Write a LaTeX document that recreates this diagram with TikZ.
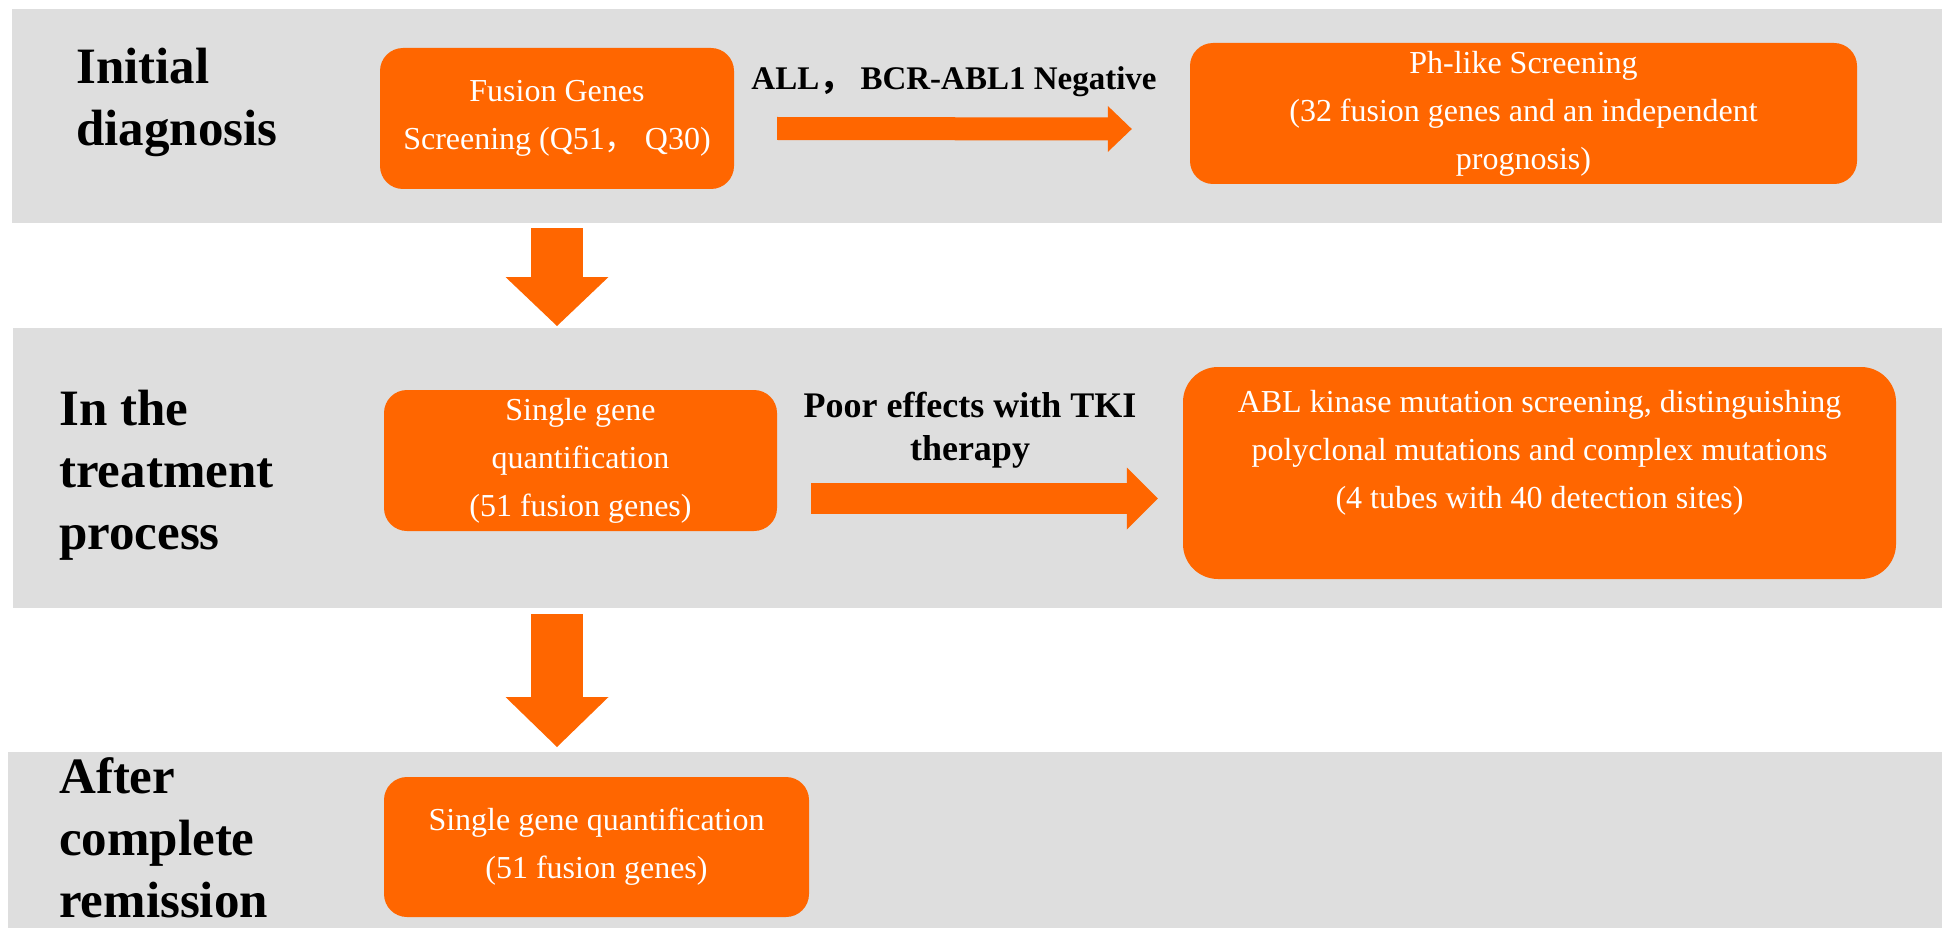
\documentclass[tikz,border=0pt]{standalone}
\usepackage{fontspec}
\setmainfont{Liberation Serif}
\newfontfamily\cjk{Noto Sans CJK SC}
\usepackage{tikz}
\usetikzlibrary{arrows.meta,positioning,calc}
\definecolor{StageGray}{HTML}{DEDEDE}
\definecolor{AssayOrange}{HTML}{FF6600}
\newcommand{\boxfont}{\fontsize{32}{48}\selectfont}
\newcommand{\stagefont}{\fontsize{51}{62}\selectfont\bfseries}
\newcommand{\stageband}[3]{%
  \node[fill=StageGray, inner sep=0pt, anchor=north west, #3] (#1) at #2 {};}
\newcommand{\assaybox}[4]{%
  \node[fill=AssayOrange, rounded corners=#4, text=white, font=\boxfont,
        align=center, inner sep=0pt, #3] (#1) {#2};}

\begin{document}
\begin{tikzpicture}[x=1pt, y=-1pt,
    stagelabel/.style={font=\stagefont, align=left, inner sep=0pt, anchor=west},
    condition/.style={align=center, inner sep=0pt},
    flow/.style={AssayOrange, line width=#1}]
    \useasboundingbox (0,0) rectangle (1942,928);
    % stage bands
    \stageband{diagband}{(12,9)}{minimum width=1930pt, minimum height=214pt}
    \stageband{treatband}{(13,328)}{minimum width=1929pt, minimum height=280pt}
    \stageband{remband}{(8,752)}{minimum width=1934pt, minimum height=176pt}
    \node[stagelabel] (initial) at (76,102) {Initial\\diagnosis};
    \node[stagelabel] (intreat) at (59,475.5) {In the\\treatment\\process};
    \node[stagelabel] (afterrem) at (59,838) {After\\complete\\remission};
    % assays
    \assaybox{fusion}{Fusion Genes\\Screening (Q51{\cjk ，} Q30)}{at={(557,118.5)}, minimum width=354pt, minimum height=141pt}{23pt}
    \assaybox{phlike}{Ph-like Screening\\(32 fusion genes and an independent\\prognosis)}{at={(1523.5,113.5)}, minimum width=667pt, minimum height=141pt}{23pt}
    \assaybox{single}{Single gene\\quantification\\(51 fusion genes)}{at={(580.5,460.5)}, minimum width=393pt, minimum height=141pt}{23pt}
    \assaybox{abl}{ABL kinase mutation screening, distinguishing\\polyclonal mutations and complex mutations\\(4 tubes with 40 detection sites)\\\mbox{}}{at={(1539.5,473)}, minimum width=713pt, minimum height=212pt}{35pt}
    \assaybox{remquant}{Single gene quantification\\(51 fusion genes)}{at={(596.5,847)}, minimum width=425pt, minimum height=140pt}{23pt}
    % conditions
    \node[condition, font=\fontsize{33}{40}\selectfont\bfseries, anchor=base] (negative) at (954,90) {ALL{\cjk ，} BCR-ABL1 Negative};
    \node[condition, font=\fontsize{36}{43}\selectfont\bfseries, anchor=north] (poor) at (970,392) {Poor effects with TKI\\therapy};
    % arrows
    \draw[flow=23pt, -{Triangle[length=24pt, width=46pt, line width=0pt]}]
      ($(fusion.east)+(43,10)$) -- ($(phlike.west)+(-58,15.5)$);
    \draw[flow=31pt, -{Triangle[length=31pt, width=62pt, line width=0pt]}]
      ($(single.east)+(34,38)$) -- ($(abl.west)+(-25,25.5)$);
    \draw[flow=52pt, -{Triangle[length=49pt, width=103pt, line width=0pt]}]
      ($(diagband.south -| fusion.south)+(0,5)$) -- ($(treatband.north -| fusion.south)+(0,-2)$);
    \draw[flow=52pt, -{Triangle[length=50pt, width=103pt, line width=0pt]}]
      ($(treatband.south -| fusion.south)+(0,6)$) -- ($(remband.north -| fusion.south)+(0,-5)$);
  \end{tikzpicture}
\end{document}
